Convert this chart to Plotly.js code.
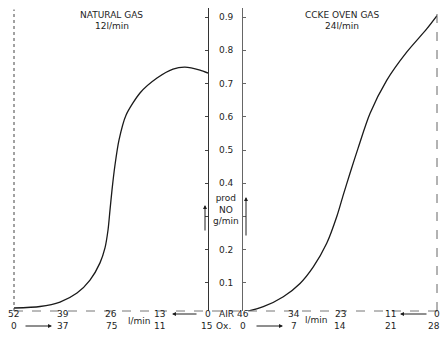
<!DOCTYPE html>
<html><head><meta charset="utf-8">
<script src="https://cdn.plot.ly/plotly-3.0.1.min.js"></script>
<style>html,body{margin:0;padding:0;background:#fff}#c{width:440px;height:339px}</style>
</head><body><div id="c"></div>
<script>
// Natural gas panel (x = air flow l/min, decreasing to the right; y = NO produced g/min)
const natAir = [52, 45.03, 39.67, 35.11, 31.63, 28.95, 27.61, 26.8, 26.27, 25.73, 24.93, 23.86, 21.98, 18.23, 13.67, 9.38, 6.17, 2.14, 0];
const natNO = [0.024, 0.0286, 0.042, 0.069, 0.108, 0.16, 0.205, 0.259, 0.319, 0.38, 0.455, 0.53, 0.605, 0.672, 0.717, 0.744, 0.75, 0.741, 0.732];
// Coke oven gas panel
const cokeAir = [46, 41.19, 36.44, 32.48, 29.33, 26.15, 23.78, 22.22, 20.63, 18.73, 15.89, 11.93, 7.19, 2.44, 0];
const cokeNO = [0.011, 0.028, 0.058, 0.098, 0.148, 0.219, 0.299, 0.365, 0.43, 0.505, 0.61, 0.71, 0.795, 0.865, 0.905];

const natTickAir = [52, 39, 26, 13, 0];
const natAirLabels = ['52', '39', '26', '13', '0'];
const natOxLabels = ['0', '37', '75', '11', '15'];
const cokeTickAir = [46, 34, 23, 11, 0];
const cokeAirLabels = ['46', '34', '23', '11', '0'];
const cokeOxLabels = ['0', '7', '14', '21', '28'];

const yTickVals = [0.1, 0.2, 0.4, 0.5, 0.6, 0.7, 0.8, 0.9];
const yTickLabels = ['0.1', '0.2', '0.4', '0.5', '0.6', '0.7', '0.8', '0.9'];
const yAllTicks = [0.1, 0.2, 0.3, 0.4, 0.5, 0.6, 0.7, 0.8, 0.9];

const W = 440, H = 339;
const FONT = {family: 'DejaVu Sans, sans-serif', size: 9, color: '#1e1e1e'};
const px = v => v / W;
const py = v => 1 - v / H;
const ROW1 = py(314), ROW2 = py(326);

const traces = [
  {x: natAir, y: natNO, xaxis: 'x', yaxis: 'y', mode: 'lines', line: {color: '#1a1a1a', width: 1.3, shape: 'spline', smoothing: 0.7}, hoverinfo: 'skip'},
  {x: cokeAir, y: cokeNO, xaxis: 'x2', yaxis: 'y2', mode: 'lines', line: {color: '#1a1a1a', width: 1.3, shape: 'spline', smoothing: 0.8}, hoverinfo: 'skip'}
];

const T = o => Object.assign({showarrow: false, font: FONT, xanchor: 'center', yanchor: 'middle'}, o);
const ann = [];
natTickAir.forEach((v, i) => {
  ann.push(T({x: v, xref: 'x', y: ROW1, yref: 'paper', text: natAirLabels[i]}));
  ann.push(T({x: v, xref: 'x', y: ROW2, yref: 'paper', text: natOxLabels[i], xshift: i === natTickAir.length - 1 ? -2 : 0}));
});
cokeTickAir.forEach((v, i) => {
  ann.push(T({x: v, xref: 'x2', y: ROW1, yref: 'paper', text: cokeAirLabels[i]}));
  ann.push(T({x: v, xref: 'x2', y: ROW2, yref: 'paper', text: cokeOxLabels[i], xshift: i === cokeTickAir.length - 1 ? -3 : 0}));
});
yTickVals.forEach((v, i) => {
  ann.push(T({x: px(226), xref: 'paper', y: v, yref: 'y', text: yTickLabels[i]}));
});
ann.push(T({x: px(226), xref: 'paper', y: 0.32, yref: 'y', text: 'prod<br>NO<br>g/min'}));
ann.push(T({x: px(112), xref: 'paper', y: py(15), yref: 'paper', text: 'NATURAL GAS'}));
ann.push(T({x: px(112), xref: 'paper', y: py(26), yref: 'paper', text: '12l/min'}));
ann.push(T({x: px(342), xref: 'paper', y: py(15), yref: 'paper', text: 'CCKE OVEN GAS'}));
ann.push(T({x: px(342), xref: 'paper', y: py(26), yref: 'paper', text: '24l/min'}));
ann.push(T({x: px(226), xref: 'paper', y: ROW1, yref: 'paper', text: 'AIR'}));
ann.push(T({x: px(224), xref: 'paper', y: ROW2, yref: 'paper', text: 'Ox.'}));
ann.push(T({x: px(139), xref: 'paper', y: py(321), yref: 'paper', text: 'l/min'}));
ann.push(T({x: px(316), xref: 'paper', y: py(320), yref: 'paper', text: 'l/min'}));
// flow direction arrows
const arr = (hx, hy, ax, ay) => ({x: px(hx), xref: 'paper', y: py(hy), yref: 'paper', ax: ax, ay: ay, axref: 'pixel', ayref: 'pixel', text: '', showarrow: true, arrowhead: 2, arrowsize: 0.8, arrowwidth: 1, arrowcolor: '#1e1e1e'});
ann.push(arr(52, 326, -28, 0));
ann.push(arr(172, 314, 26, 0));
ann.push(arr(283, 326, -28, 0));
ann.push(arr(400, 314, 28, 0));
ann.push(arr(205, 205, 0, 27));
ann.push(arr(246, 197, 0, 40));

const shapes = [
  {type: 'line', xref: 'x domain', yref: 'y domain', x0: 0, x1: 0, y0: 0, y1: 0.995, line: {color: '#444', width: 1, dash: 'dot'}},
  {type: 'line', xref: 'x2 domain', yref: 'y2 domain', x0: 1, x1: 1, y0: 0, y1: 0.99, line: {color: '#666', width: 1, dash: 'dash'}},
  {type: 'line', xref: 'paper', yref: 'y domain', x0: px(14), x1: px(437), y0: 0, y1: 0, line: {color: '#777', width: 1, dash: 'dash'}}
];

const axCommon = {showgrid: false, zeroline: false, showticklabels: false, ticks: ''};
const layout = {
  width: W, height: H,
  margin: {l: 0, r: 0, t: 0, b: 0},
  paper_bgcolor: '#fff', plot_bgcolor: 'rgba(0,0,0,0)',
  showlegend: false,
  xaxis: Object.assign({}, axCommon, {domain: [px(14), px(208)], range: [52, 0]}),
  xaxis2: Object.assign({}, axCommon, {domain: [px(243), px(437)], range: [46, 0]}),
  yaxis: {domain: [py(311), py(8)], range: [0.015, 0.928], anchor: 'x', side: 'right', showgrid: false, zeroline: false,
    showticklabels: false, tickvals: yAllTicks, ticks: 'inside', ticklen: 3, tickcolor: '#444',
    showline: true, linecolor: '#333', linewidth: 1},
  yaxis2: {domain: [py(311), py(8)], range: [0.015, 0.928], anchor: 'x2', side: 'left', showgrid: false, zeroline: false,
    showticklabels: false, tickvals: yAllTicks, ticks: 'inside', ticklen: 3, tickcolor: '#666',
    showline: true, linecolor: '#666', linewidth: 1},
  annotations: ann,
  shapes: shapes
};
Plotly.newPlot('c', traces, layout, {staticPlot: true, displayModeBar: false});
</script></body></html>
